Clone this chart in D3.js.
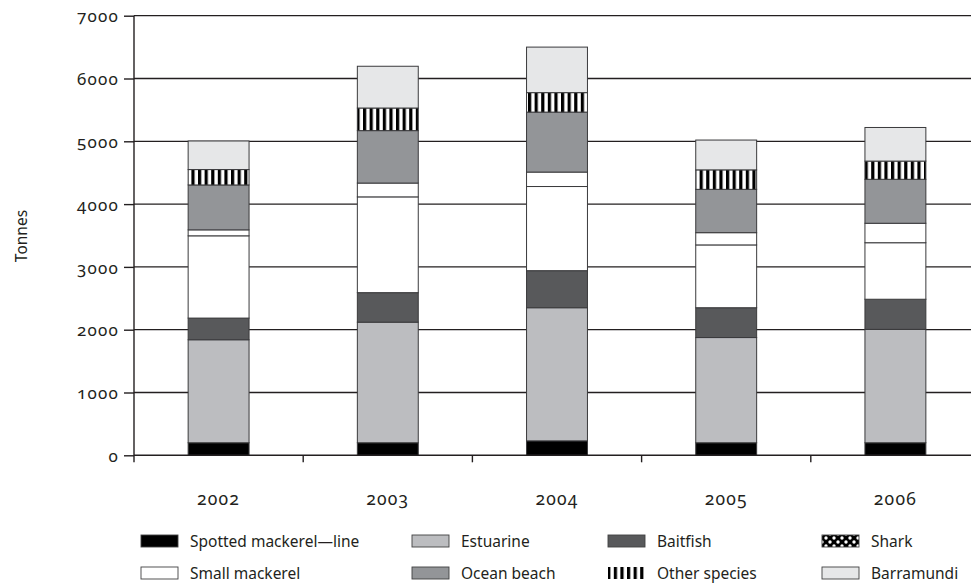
<!DOCTYPE html>
<html><head><meta charset="utf-8">
<script src="https://cdn.jsdelivr.net/npm/d3@7"></script>
<style>
body{margin:0;background:#fff;}
text{font-family:"Noto Sans","Open Sans",sans-serif;fill:#231f20;font-variant-numeric:oldstyle-nums;}
</style></head><body>
<svg id="c" width="971" height="583"></svg>
<script>
const years = ["2002","2003","2004","2005","2006"];
const seriesNames = ["Spotted mackerel—line","Estuarine","Baitfish","Small mackerel","Shark","Ocean beach","Other species","Barramundi"];
const spotted      = [200, 200, 230, 200, 200];
const estuarine    = [1640, 1920, 2120, 1675, 1805];
const baitfish     = [345, 470, 590, 475, 480];
const smallMack    = [1310, 1525, 1340, 1000, 900];
const shark        = [95, 220, 230, 195, 310];
const oceanBeach   = [715, 835, 955, 690, 700];
const otherSpecies = [245, 360, 310, 310, 290];
const barramundi   = [455, 665, 725, 475, 535];
const yTicks = [0,1000,2000,3000,4000,5000,6000,7000];
const legendOrder = ["Spotted mackerel—line","Estuarine","Baitfish","Shark","Small mackerel","Ocean beach","Other species","Barramundi"];

const seriesValues = [spotted, estuarine, baitfish, smallMack, shark, oceanBeach, otherSpecies, barramundi];
const table = years.map((y,i)=>{const o={year:y}; seriesNames.forEach((n,k)=>o[n]=seriesValues[k][i]); return o;});

const fills = {
 "Spotted mackerel—line":"#000000",
 "Estuarine":"#bcbdc0",
 "Baitfish":"#58595b",
 "Small mackerel":"#ffffff",
 "Shark":"#ffffff",
 "Ocean beach":"#939598",
 "Other species":"url(#stripes)",
 "Barramundi":"#e6e7e8"
};
const legendFills = Object.assign({}, fills, {"Shark":"url(#dots)"});

const svg = d3.select("#c");
const defs = svg.append("defs");
const st = defs.append("pattern").attr("id","stripes").attr("patternUnits","userSpaceOnUse").attr("width",6.6).attr("height",10);
st.append("rect").attr("width",6.6).attr("height",10).attr("fill","#fff");
st.append("rect").attr("width",3.2).attr("height",10).attr("fill","#000");
const dp = defs.append("pattern").attr("id","dots").attr("patternUnits","userSpaceOnUse").attr("width",8).attr("height",8);
dp.append("rect").attr("width",8).attr("height",8).attr("fill","#000");
dp.append("circle").attr("cx",2).attr("cy",2).attr("r",1.7).attr("fill","#fff");
dp.append("circle").attr("cx",6).attr("cy",6).attr("r",1.7).attr("fill","#fff");

const x0 = 134, yBase = 455.3;
const x = d3.scaleBand().domain(years).range([x0, x0 + 5*169.2]).paddingInner(0.64).paddingOuter(0.32);
const y = d3.scaleLinear().domain([0,7000]).range([yBase, 15.7]);

// gridlines
svg.append("g").selectAll("line").data(yTicks.filter(d=>d>0)).join("line")
 .attr("x1",x0).attr("x2",971).attr("y1",d=>y(d)).attr("y2",d=>y(d))
 .attr("stroke","#231f20").attr("stroke-width",1.3);

// bars
const stack = d3.stack().keys(seriesNames)(table);
const g = svg.append("g");
stack.forEach(layer=>{
  g.append("g").selectAll("rect").data(layer).join("rect")
   .attr("x",d=>x(d.data.year)).attr("width",x.bandwidth())
   .attr("y",d=>y(d[1])).attr("height",d=>y(d[0])-y(d[1]))
   .attr("fill",fills[layer.key]).attr("stroke","#3a3a3c").attr("stroke-width",1);
});

// y axis
const ya = svg.append("g").attr("transform",`translate(${x0},0)`)
 .call(d3.axisLeft(y).tickValues(yTicks).tickSize(10).tickPadding(6).tickFormat(d3.format("d")));
ya.select(".domain").attr("stroke","#231f20").attr("stroke-width",1.4).attr("d",`M0,${y(7000)}V${yBase+7}`);
ya.selectAll(".tick line").attr("stroke","#231f20").attr("stroke-width",1.4);
ya.selectAll(".tick text").attr("font-size",17).attr("letter-spacing",1.2).attr("dx",1).attr("fill","#231f20").attr("dy","0.36em");

// baseline & category ticks
svg.append("line").attr("x1",x0).attr("x2",971).attr("y1",yBase).attr("y2",yBase).attr("stroke","#231f20").attr("stroke-width",1.4);
svg.append("g").selectAll("line").data(years.slice(1)).join("line")
 .attr("x1",d=>x(d)-x.step()*x.paddingInner()/2).attr("x2",d=>x(d)-x.step()*x.paddingInner()/2)
 .attr("y1",yBase).attr("y2",yBase+7).attr("stroke","#231f20").attr("stroke-width",1.4);

// x labels
svg.append("g").selectAll("text").data(years).join("text")
 .attr("x",d=>x(d)+x.bandwidth()/2).attr("y",505).attr("text-anchor","middle").attr("font-size",17.5).attr("letter-spacing",1.2).text(d=>d);

// y title
svg.append("text").attr("transform","translate(27,236) rotate(-90)").attr("text-anchor","middle").attr("font-size",15.5).text("Tonnes");

// legend
const colX = [141, 412, 608, 822];
const rowY = [541, 573];
const lg = svg.append("g");
legendOrder.forEach((n,i)=>{
  const cx = colX[i%4], cy = rowY[Math.floor(i/4)];
  if(n==="Other species"){
    lg.append("rect").attr("x",cx).attr("y",cy-6).attr("width",38).attr("height",12).attr("fill","url(#stripes)");
  } else {
    lg.append("rect").attr("x",cx).attr("y",cy-6).attr("width",37).attr("height",12).attr("fill",legendFills[n]).attr("stroke","#414042").attr("stroke-width",0.9);
  }
  lg.append("text").attr("x",cx+49).attr("y",cy+5.5).attr("font-size",15.5).text(n);
});
</script></body></html>
